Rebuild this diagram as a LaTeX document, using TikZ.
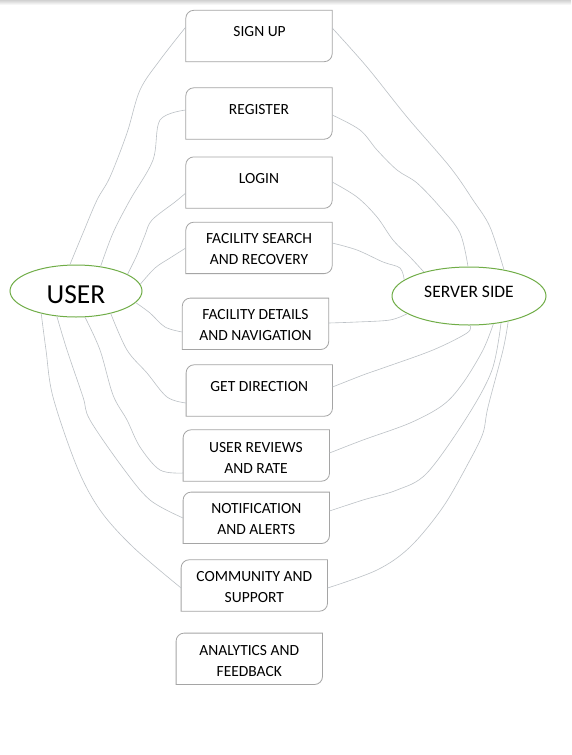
\documentclass[tikz,border=0pt]{standalone}
\usepackage{fontspec}
\setmainfont{Carlito}
\usetikzlibrary{shapes.geometric}
\definecolor{boxgray}{RGB}{165,165,165}
\definecolor{linkgray}{RGB}{188,193,198}
\definecolor{ellgreen}{RGB}{112,173,71}
\newcommand{\diagbox}[1]{\draw[boxline] (#1.south west) -- ([yshift=-8pt]#1.north west) arc[start angle=180,end angle=90,radius=8pt] -- (#1.north east) -- ([yshift=8pt]#1.south east) arc[start angle=0,end angle=-90,radius=8pt] -- cycle;}
\begin{document}
\begin{tikzpicture}[x=1pt,y=-1pt,
 box/.style={rectangle, minimum width=146pt, minimum height=51pt, inner sep=0pt},
 txt/.style={inner sep=0pt, align=center, font=\fontsize{15.5}{21}\selectfont},
 boxline/.style={draw=boxgray, line width=0.8pt},
 ell/.style={ellipse, draw=ellgreen, line width=1pt, inner sep=0pt},
 link/.style={draw=linkgray, line width=0.6pt},
 curve/.style={smooth, tension=0.55}
]
\fill[white] (0,0) rectangle (571,755);
\useasboundingbox (0,0) rectangle (571,755);
\shade[top color=black!18, bottom color=white] (0,0) rectangle (571,5);

\node[box] (signup) at (259,36) {};
\node[box] (register) at (259,113.5) {};
\node[box] (login) at (259,182.6) {};
\node[box] (search) at (259,247.9) {};
\node[box] (details) at (255.5,323.8) {};
\node[box] (direction) at (259.3,390.5) {};
\node[box] (reviews) at (256.3,455.5) {};
\node[box] (notif) at (256.3,517.8) {};
\node[box] (community) at (254.3,585.5) {};
\node[box] (analytics) at (249.3,658.8) {};

\foreach \n in {signup,register,login,search,details,direction,reviews,notif,community,analytics}{\diagbox{\n}}

\node[txt] (signupt) at (259.6,31.2) {SIGN UP};
\node[txt] (registert) at (259,109.2) {REGISTER};
\node[txt] (logint) at (259,178.2) {LOGIN};
\node[txt] (searcht) at (259,249) {FACILITY SEARCH\\AND RECOVERY};
\node[txt] (detailst) at (255.5,324.9) {FACILITY DETAILS\\AND NAVIGATION};
\node[txt] (directiont) at (259.3,386.2) {GET DIRECTION};
\node[txt] (reviewst) at (256,457.8) {USER REVIEWS\\AND RATE};
\node[txt] (notift) at (256.3,518.8) {NOTIFICATION\\AND ALERTS};
\node[txt] (communityt) at (254.3,586.8) {COMMUNITY AND\\SUPPORT};
\node[txt] (analyticst) at (249.3,660.9) {ANALYTICS AND\\FEEDBACK};

\node[ell, minimum width=132pt, minimum height=52pt, font=\fontsize{27.5}{30}\selectfont, text height=25pt] (user) at (76,291) {USER};
\node[ell, minimum width=154pt, minimum height=58pt, font=\fontsize{17.5}{21}\selectfont, text depth=8.6pt] (server) at (469,296) {SERVER SIDE};

% user side
\draw[link] plot[curve] coordinates {(user.103) (83,233) (97,200) (110,177) (127,133) (140,90) (160,60) (signup.west |- 0,27)};
\draw[link] plot[curve] coordinates {(user.45) (113,233) (130,200) (153,160) (160,120) (register.west |- 0,110)};
\draw[link] plot[curve] coordinates {(user.18) (137,255) (145,235) (152,220) (175,202) (login.west |- 0,193)};
\draw[link] plot[curve] coordinates {(user.6) (155,268) (170,258) (search.west |- 0,248)};
\draw[link] plot[curve] coordinates {(user.-11) (150,313) (165,327) (details.west |- 0,332)};
\draw[link] plot[curve] coordinates {(user.-33) (127,350) (147,373) (167,397) (direction.west |- 0,403)};
\draw[link] plot[curve] coordinates {(user.-71) (100,350) (113,395) (127,420) (140,447) (160,470) (reviews.west |- 0,473)};
\draw[link] plot[curve] coordinates {(user.-127) (67,350) (83,397) (90,420) (123,468) (150,500) (notif.west |- 0,518)};
\draw[link] plot[curve] coordinates {(user.-147) (46,350) (53,397) (77,467) (100,510) (133,547) (community.west |- 0,588)};

% server side
\draw[link] plot[curve] coordinates {(signup.east |- 0,28) (367,67) (407,117) (450,167) (473,200) (490,227) (server.37)};
\draw[link] plot[curve] coordinates {(register.east |- 0,115) (360,130) (377,150) (397,170) (417,183) (440,207) (460,233) (server.92)};
\draw[link] plot[curve] coordinates {(login.east |- 0,182) (357,197) (377,217) (393,240) (410,257) (server.152)};
\draw[link] plot[curve] coordinates {(search.east |- 0,243) (357,250) (383,262) (400,268) (server.166)};
\draw[link] plot[curve] coordinates {(details.east |- 0,323) (357,322) (390,320) (server.-164)};
\draw[link] plot[curve] coordinates {(direction.east |- 0,387) (363,375) (383,368) (433,350) (467,333) (server.-88)};
\draw[link] plot[curve] coordinates {(reviews.east |- 0,453) (363,440) (410,423) (443,405) (463,383) (483,350) (server.-49)};
\draw[link] plot[curve] coordinates {(notif.east |- 0,511) (363,500) (397,490) (427,473) (467,417) (492,370) (server.-40)};
\draw[link] plot[curve] coordinates {(community.east |- 0,588) (377,570) (410,547) (443,507) (470,460) (483,433) (488,407) (503,350) (server.-33)};
\end{tikzpicture}
\end{document}
